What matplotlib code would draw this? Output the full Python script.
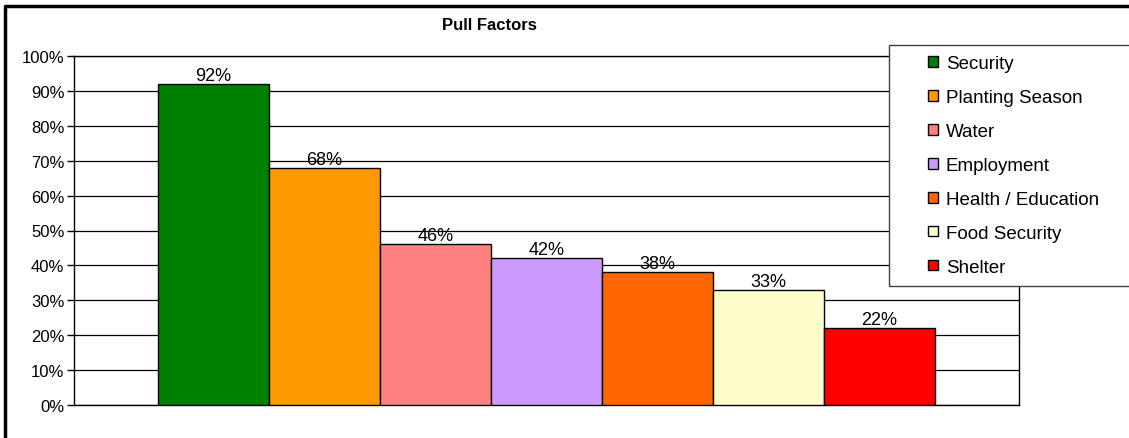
import matplotlib.pyplot as plt
from matplotlib.patches import Rectangle, Patch
from matplotlib.lines import Line2D
from matplotlib.ticker import PercentFormatter, MultipleLocator

plt.rcParams['font.family'] = ['Liberation Sans', 'DejaVu Sans']

# pull factors, share of respondents (%)
factors = ["Security", "Planting Season", "Water", "Employment",
           "Health / Education", "Food Security", "Shelter"]
shares = [92, 68, 46, 42, 38, 33, 22]
colors = ["#008000", "#FF9900", "#FF8080", "#CC99FF",
          "#FF6600", "#FFFFCC", "#FF0000"]

W, H = 1129, 439
fig = plt.figure(figsize=(W / 100, H / 100), dpi=100)

def px(x0, y0, x1, y1):
    # pixel box (from top-left) -> figure fraction [left, bottom, width, height]
    return [x0 / W, 1 - y1 / H, (x1 - x0) / W, (y1 - y0) / H]

ax = fig.add_axes(px(74, 57, 1019, 406))

xs = list(range(len(factors)))
bars = ax.bar(xs, shares, width=1.0, align='edge', color=colors,
              edgecolor='black', linewidth=1.0, zorder=3)
ax.bar_label(bars, labels=["%d%%" % v for v in shares], padding=0,
             fontsize=13, zorder=4)

ax.set_xlim(-0.757, len(factors) + 0.757)
ax.set_ylim(0, 100)
ax.yaxis.set_major_locator(MultipleLocator(10))
ax.yaxis.set_major_formatter(PercentFormatter(decimals=0))
ax.tick_params(axis='y', direction='out', length=5, width=1, labelsize=12, pad=2)
ax.set_xticks([])
ax.grid(axis='y', color='black', linewidth=0.9, zorder=0)
for s in ax.spines.values():
    s.set_color('black')
    s.set_linewidth(1.0)

fig.text(489 / W, 1 - 25 / H, "Pull Factors", ha='center', va='center',
         fontsize=12, fontweight='bold')

# legend box runs off the right edge
fig.patches.append(Rectangle((889 / W, 1 - 287 / H), 260 / W, 241 / H,
                             transform=fig.transFigure, facecolor='white',
                             edgecolor='#404040', linewidth=1.0, zorder=5))
handles = [Patch(facecolor=c, edgecolor='black', linewidth=1.0) for c in colors]
leg = fig.legend(handles, factors, loc='upper left',
                 bbox_to_anchor=(919 / W, 1 - 47 / H), frameon=False,
                 fontsize=13.5, handlelength=0.5, handleheight=0.5,
                 handletextpad=0.42, labelspacing=0.9, borderpad=0)
leg.set_zorder(6)

# outer chart border (left and top only)
fig.add_artist(Line2D([5 / W, 5 / W, 1.0], [0.0, 1 - 7 / H, 1 - 7 / H],
                      transform=fig.transFigure, color='black', linewidth=2.5))

fig.savefig("out.png", dpi=100)
